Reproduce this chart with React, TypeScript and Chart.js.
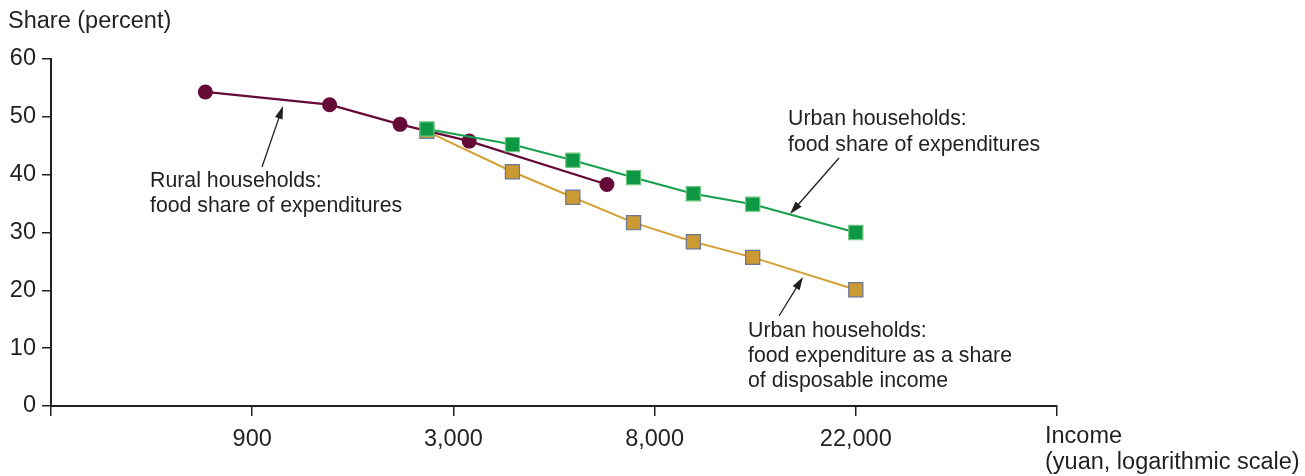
import React, { useEffect, useRef } from "react";
import { Chart, registerables } from "chart.js";

Chart.register(...registerables);

// Axis tick values (income, yuan) and their labels — drawn equally spaced (log-like scale)
const tickIncomes = [900, 3000, 8000, 22000];
const tickLabels = ["900", "3,000", "8,000", "22,000"];

// Rural households: food share of expenditures
const ruralIncome = [680, 1430, 2180, 3240, 6340];
const ruralShare = [54.3, 52.1, 48.7, 45.8, 38.3];

// Urban households
const urbanIncome = [2560, 4000, 5370, 7220, 9720, 13100, 22000];
const urbanExpShare = [47.9, 45.2, 42.5, 39.5, 36.7, 34.9, 30.0];
const urbanIncShare = [47.5, 40.5, 36.1, 31.7, 28.4, 25.7, 20.1];

const yTicks = [0, 10, 20, 30, 40, 50, 60];

// piecewise logarithmic transform: ticks sit at positions 1..4
function incomeToAxis(v: number): number {
  const L = tickIncomes.map(Math.log);
  const lv = Math.log(v);
  let k = 0;
  if (lv <= L[1]) k = 0;
  else if (lv <= L[2]) k = 1;
  else k = 2;
  return k + 1 + (lv - L[k]) / (L[k + 1] - L[k]);
}

const TEXT = "#231f20";
const FONT = '"Liberation Sans", Arial, Helvetica, sans-serif';
const AXIS_SIZE = 23.5;
const NOTE_SIZE = 21.3;

function drawArrow(ctx: CanvasRenderingContext2D, x1: number, y1: number, x2: number, y2: number) {
  const ang = Math.atan2(y2 - y1, x2 - x1);
  const hl = 13;
  const hw = 4;
  ctx.save();
  ctx.strokeStyle = TEXT;
  ctx.fillStyle = TEXT;
  ctx.lineWidth = 1.3;
  ctx.beginPath();
  ctx.moveTo(x1, y1);
  ctx.lineTo(x2 - Math.cos(ang) * (hl - 2), y2 - Math.sin(ang) * (hl - 2));
  ctx.stroke();
  ctx.beginPath();
  ctx.moveTo(x2, y2);
  ctx.lineTo(x2 - Math.cos(ang) * hl - Math.sin(ang) * hw, y2 - Math.sin(ang) * hl + Math.cos(ang) * hw);
  ctx.lineTo(x2 - Math.cos(ang) * hl + Math.sin(ang) * hw, y2 - Math.sin(ang) * hl - Math.cos(ang) * hw);
  ctx.closePath();
  ctx.fill();
  ctx.restore();
}

const annotationPlugin = {
  id: "annotations",
  afterDraw(chart: any) {
    const ctx: CanvasRenderingContext2D = chart.ctx;
    ctx.save();
    ctx.fillStyle = TEXT;
    ctx.textBaseline = "middle";
    ctx.textAlign = "left";
    ctx.font = `${AXIS_SIZE}px ${FONT}`;
    ctx.fillText("Share (percent)", 8, 22);
    ctx.fillText("Income", 1045, 437);
    ctx.fillText("(yuan, logarithmic scale)", 1045, 463);

    ctx.font = `${NOTE_SIZE}px ${FONT}`;
    ctx.fillText("Rural households:", 150, 181);
    ctx.fillText("food share of expenditures", 150, 206);

    ctx.fillText("Urban households:", 788, 119);
    ctx.fillText("food share of expenditures", 788, 145);

    ctx.fillText("Urban households:", 748, 331);
    ctx.fillText("food expenditure as a share", 748, 356);
    ctx.fillText("of disposable income", 748, 381);
    ctx.restore();

    drawArrow(ctx, 262, 167, 283, 106);
    drawArrow(ctx, 839, 158, 790, 214);
    drawArrow(ctx, 779, 316, 803, 277);
  },
};

export default function App() {
  const ref = useRef<HTMLCanvasElement | null>(null);
  useEffect(() => {
    if (!ref.current) return;
    const mk = (xs: number[], ys: number[]) => xs.map((x, i) => ({ x: incomeToAxis(x), y: ys[i] }));
    const chart = new Chart(ref.current, {
      type: "line",
      data: {
        datasets: [
          {
            label: "Urban: food share of expenditures",
            data: mk(urbanIncome, urbanExpShare),
            borderColor: "#17a04d",
            borderWidth: 2,
            pointStyle: "rect",
            pointRadius: 10,
            pointBackgroundColor: "#0e9846",
            pointBorderColor: "#6cc67b",
            pointBorderWidth: 1.2,
            tension: 0,
          },
          {
            label: "Rural: food share of expenditures",
            data: mk(ruralIncome, ruralShare),
            borderColor: "#650a36",
            borderWidth: 2.2,
            pointStyle: "circle",
            pointRadius: 7.5,
            pointBackgroundColor: "#650a36",
            pointBorderColor: "#650a36",
            pointBorderWidth: 0,
            tension: 0,
          },
          {
            label: "Urban: food expenditure share of disposable income",
            data: mk(urbanIncome, urbanIncShare),
            borderColor: "#d5a135",
            borderWidth: 2,
            pointStyle: "rect",
            pointRadius: 10,
            pointBackgroundColor: "#cc9a33",
            pointBorderColor: "#6b7596",
            pointBorderWidth: 1.2,
            tension: 0,
          },
        ],
      },
      options: {
        animation: false,
        responsive: false,
        maintainAspectRatio: false,
        layout: { padding: { top: 59, right: 248, left: 0, bottom: 0 } },
        plugins: { legend: { display: false }, tooltip: { enabled: false } },
        scales: {
          x: {
            type: "linear",
            min: 0,
            max: 5,
            afterFit: (s: any) => {
              s.height = 70;
            },
            afterBuildTicks: (s: any) => {
              s.ticks = [0, 1, 2, 3, 4, 5].map((v) => ({ value: v }));
            },
            ticks: {
              autoSkip: false,
              maxRotation: 0,
              padding: 9,
              color: TEXT,
              font: { family: FONT, size: AXIS_SIZE },
              callback: (v: any) => (v >= 1 && v <= 4 ? tickLabels[v - 1] : ""),
            },
            grid: {
              drawOnChartArea: false,
              drawTicks: true,
              tickLength: 10,
              color: TEXT,
              lineWidth: 1.5,
            },
            border: { display: true, color: TEXT, width: 2 },
          },
          y: {
            type: "linear",
            min: 0,
            max: 60,
            afterFit: (s: any) => {
              s.width = 51;
            },
            afterBuildTicks: (s: any) => {
              s.ticks = yTicks.map((v) => ({ value: v }));
            },
            ticks: {
              padding: 6,
              color: TEXT,
              font: { family: FONT, size: AXIS_SIZE },
            },
            grid: {
              drawOnChartArea: false,
              drawTicks: true,
              tickLength: 9,
              color: TEXT,
              lineWidth: 1.5,
            },
            border: { display: true, color: TEXT, width: 2 },
          },
        },
      },
      plugins: [annotationPlugin],
    });
    return () => chart.destroy();
  }, []);
  return (
    <div style={{ position: "fixed", left: 0, top: 0, width: 1305, height: 476, background: "#fff" }}>
      <canvas ref={ref} width={1305} height={476} style={{ display: "block" }} />
    </div>
  );
}
